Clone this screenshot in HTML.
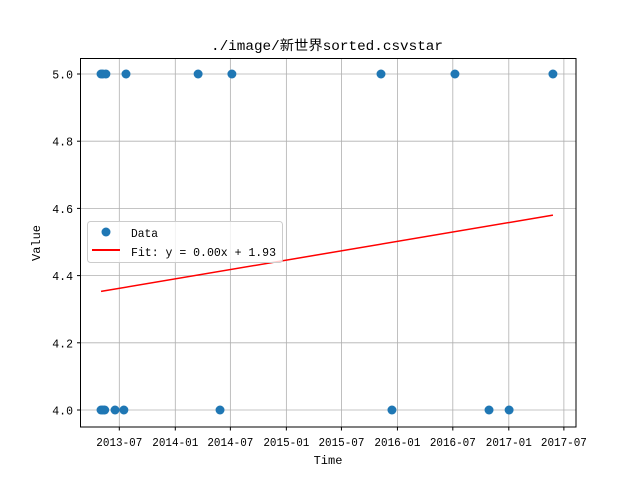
<!DOCTYPE html>
<html><head><meta charset="utf-8"><style>
body{margin:0;background:#fff}
svg text{font-family:"Liberation Mono","Noto Sans CJK SC",monospace;fill:#000}
</style></head><body>
<svg id="chart" width="640" height="480" xmlns="http://www.w3.org/2000/svg">
<rect width="640" height="480" fill="#fff"/>
<g id="grid"></g>
<g id="marks"></g>
<rect x="80.5" y="58.5" width="495.5" height="368.5" fill="none" stroke="#000" stroke-width="1"/>
<g id="ticks"></g>
<text x="211" y="50" font-size="13.5" textLength="232" lengthAdjust="spacingAndGlyphs">./image/新世界sorted.csvstar</text>
<text x="328" y="464" font-size="12" text-anchor="middle">Time</text>
<text x="0" y="0" font-size="12" text-anchor="middle" transform="translate(40,243) rotate(-90)">Value</text>
<g>
<rect x="87.5" y="221.5" width="195" height="41" rx="3" fill="#fff" fill-opacity="0.8" stroke="#ccc"/>
<circle cx="106" cy="232" r="4.5" fill="#1f77b4"/>
<text x="131" y="237" font-size="12" textLength="27" lengthAdjust="spacingAndGlyphs">Data</text>
<line x1="92" y1="250" x2="120" y2="250" stroke="red" stroke-width="2"/>
<text x="131" y="256" font-size="12" textLength="145" lengthAdjust="spacingAndGlyphs">Fit: y = 0.00x + 1.93</text>
</g>
</svg>
<script>
const dates5 = ["2013-05-02","2013-05-08","2013-05-18","2013-07-23","2014-03-17","2014-07-06","2015-11-08","2016-07-08","2017-05-26"];
const dates4 = ["2013-05-02","2013-05-08","2013-05-14","2013-06-17","2013-07-16","2014-05-28","2015-12-14","2016-10-28","2017-01-02"];
const values5 = [5,5,5,5,5,5,5,5,5];
const values4 = [4,4,4,4,4,4,4,4,4];
const fitDates = ["2013-05-02","2017-05-26"];
const fitValues = [4.353,4.580];
const xTicks = ["2013-07","2014-01","2014-07","2015-01","2015-07","2016-01","2016-07","2017-01","2017-07"];
const yTicks = [4.0,4.2,4.4,4.6,4.8,5.0];

const NS="http://www.w3.org/2000/svg";
const ref=Date.parse("2013-07-01");
function xs(d){return 119.3+(Date.parse(d.length==7?d+"-01":d)-ref)/86400000*0.3043;}
function ys(v){return 410-(v-4)*336;}
function mk(tag,attrs,parent){const e=document.createElementNS(NS,tag);for(const k in attrs)e.setAttribute(k,attrs[k]);document.getElementById(parent).appendChild(e);return e;}
xTicks.forEach(t=>{const x=xs(t);
 let g=mk("line",{x1:x,x2:x,y1:58.5,y2:427,stroke:"#b0b0b0","stroke-width":0.8},"grid");
 
 
 let tk=mk("line",{x1:x,x2:x,y1:427,y2:430.5,stroke:"#000"},"ticks");
 
 
 let tx=mk("text",{x:x,y:446,"font-size":11.5,"text-anchor":"middle",textLength:46,lengthAdjust:"spacingAndGlyphs"},"ticks");tx.textContent=t;
 
 
});
yTicks.forEach(t=>{const y=ys(t);
 let g=mk("line",{x1:80.5,x2:576,y1:y,y2:y,stroke:"#b0b0b0","stroke-width":0.8},"grid");
 
 
 let tk=mk("line",{x1:77,x2:80.5,y1:y,y2:y,stroke:"#000"},"ticks");
 
 
 let tx=mk("text",{x:73,y:y+4.5,"font-size":11.5,"text-anchor":"end"},"ticks");tx.textContent=t.toFixed(1);
 
 
});
function pts(ds,vs){ds.forEach((d,i)=>{let c=mk("circle",{cx:xs(d),cy:ys(vs[i]),r:4.5,fill:"#1f77b4"},"marks");
 
 });}
pts(dates5,values5);pts(dates4,values4);
let fl=mk("line",{x1:xs(fitDates[0]),y1:ys(fitValues[0]),x2:xs(fitDates[1]),y2:ys(fitValues[1]),stroke:"red","stroke-width":1.5},"marks");


</script>
</body></html>
